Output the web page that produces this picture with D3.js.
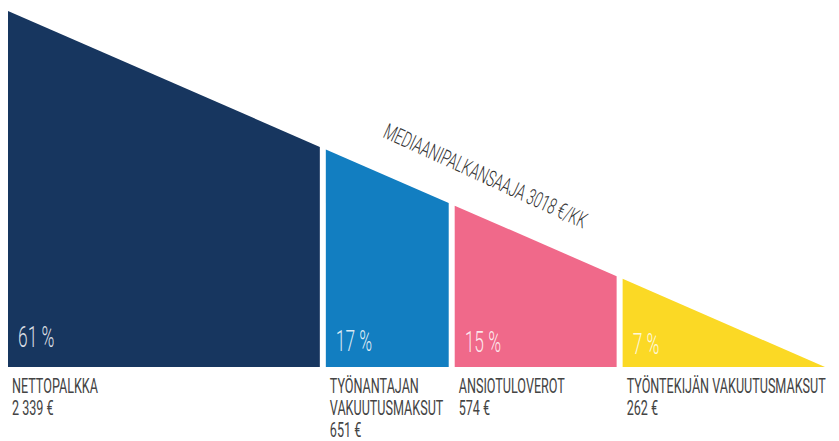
<!DOCTYPE html>
<html>
<head>
<meta charset="utf-8">
<script src="https://cdn.jsdelivr.net/npm/d3@7"></script>
<style>
  html, body { margin: 0; padding: 0; background: #fff; }
  svg { display: block; }
  text { font-family: Roboto, "DejaVu Sans", sans-serif; }
</style>
</head>
<body>
<div id="chart"></div>
<script>
// --- data ---
const categories = ["NETTOPALKKA", "TYÖNANTAJAN VAKUUTUSMAKSUT", "ANSIOTULOVEROT", "TYÖNTEKIJÄN VAKUUTUSMAKSUT"];
const labelLines = [["NETTOPALKKA"], ["TYÖNANTAJAN", "VAKUUTUSMAKSUT"], ["ANSIOTULOVEROT"], ["TYÖNTEKIJÄN VAKUUTUSMAKSUT"]];
const values = [2339, 651, 574, 262];
const percents = [61, 17, 15, 7];
const valueLabels = ["2 339 €", "651 €", "574 €", "262 €"];
const colors = ["#17365f", "#127ec1", "#f0698a", "#fbd925"];
const title = "MEDIAANIPALKANSAAJA 3018 €/KK";

const width = 839, height = 441;
const leftX = 8, apexX = 825, topY = 11, baseY = 367;
const gap = 6;

const svg = d3.select("#chart").append("svg")
    .attr("width", width)
    .attr("height", height);

const total = d3.sum(values);

// area based split of the triangle: distance from apex ~ sqrt(remaining share)
const pos = d3.scalePow().exponent(0.515)
    .domain([0, total])
    .range([apexX, leftX]);

// hypotenuse
const lineY = d3.scaleLinear()
    .domain([leftX, apexX])
    .range([topY, baseY]);

const cum = d3.cumsum(values);
const segs = values.map((v, i) => {
    const start = i === 0 ? 0 : cum[i - 1];
    let x0 = pos(total - start);
    let x1 = pos(total - cum[i]);
    if (i > 0) x0 += gap / 2;
    if (i < values.length - 1) x1 -= gap / 2;
    return { i, x0, x1 };
});

const line = d3.line();

svg.selectAll("path.seg")
    .data(segs)
    .join("path")
    .attr("class", "seg")
    .attr("fill", d => colors[d.i])
    .attr("d", d => line([
        [d.x0, baseY],
        [d.x0, lineY(d.x0)],
        [d.x1, lineY(d.x1)],
        [d.x1, baseY]
    ]) + "Z");

// condensed text helper
function condText(g, x, y, str, size, weight, fill, sx) {
    return g.append("text")
        .attr("transform", `translate(${x},${y}) scale(${sx},1)`)
        .attr("font-size", size)
        .attr("font-weight", weight)
        .attr("fill", fill)
        .text(str);
}

// percentage labels inside the shapes
segs.forEach(d => {
    const x = d.x0 + 10;
    const y = 347 + (x - leftX) * 0.012;
    condText(svg, x, y, percents[d.i] + " %", 29, 300, "rgba(255,255,255,0.85)", 0.6);
});

// category labels below
segs.forEach(d => {
    const x = d.x0 + 4;
    const lines = labelLines[d.i].concat([valueLabels[d.i]]);
    lines.forEach((t, k) => {
        condText(svg, x, 393 + k * 22, t, 20, 400, "#444", 0.63);
    });
});

// rotated title above the hypotenuse
const angle = Math.atan2(baseY - topY, apexX - leftX) * 180 / Math.PI;
const tx = 382;
svg.append("text")
    .attr("transform", `translate(${tx},${lineY(tx) - 37}) rotate(${angle + 1}) scale(0.62,1)`)
    .attr("font-size", 22)
    .attr("font-weight", 300)
    .attr("fill", "#333")
    .text(title);
</script>
</body>
</html>
